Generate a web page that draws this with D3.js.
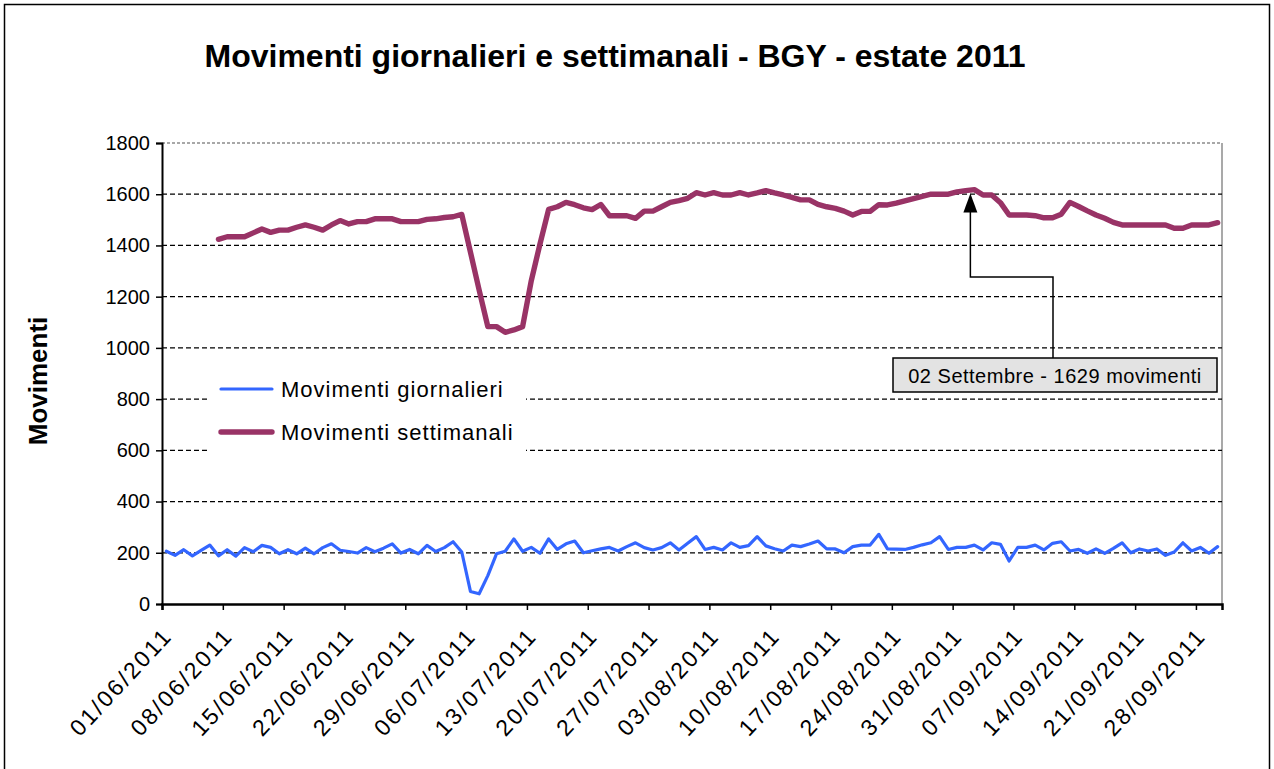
<!DOCTYPE html>
<html><head><meta charset="utf-8">
<script src="https://cdn.jsdelivr.net/npm/d3@7"></script>
<style>
html,body{margin:0;padding:0;background:#fff;}
svg text{font-family:"Liberation Sans",Arial,sans-serif;}
</style></head>
<body>
<svg id="c" width="1274" height="769"></svg>
<script>
const title = "Movimenti giornalieri e settimanali - BGY - estate 2011";
const yTitle = "Movimenti";
const seriesNames = ["Movimenti giornalieri", "Movimenti settimanali"];
const startDate = new Date(2011, 5, 1);
const endDate = new Date(2011, 9, 1);
const yTicks = [0, 200, 400, 600, 800, 1000, 1200, 1400, 1600, 1800];
const annotationText = "02 Settembre - 1629 movimenti";
const annotationDate = new Date(2011, 8, 2);

const daily = [
 206,190,212,188,209,230,188,212,187,220,
 204,229,221,196,212,196,218,196,220,235,
 210,205,199,220,204,218,235,199,213,196,
 229,205,220,243,203,49,40,111,196,206,
 254,206,221,198,254,213,235,246,200,208,
 215,221,207,224,239,220,211,220,239,211,
 237,263,213,221,211,239,221,228,263,227,
 216,207,230,224,234,246,215,215,200,224,
 230,230,272,215,214,213,221,231,239,263,
 213,221,221,230,211,239,233,168,221,221,
 230,211,237,243,207,213,198,215,198,217,
 239,200,215,207,215,190,203,239,207,221,
 198,224
];
const weekly = [
 null,null,null,null,null,null,
 1424,1434,1434,1434,1449,1464,1451,1460,1460,1471,
 1480,1471,1460,1480,1497,1484,1493,1493,1504,1504,
 1504,1493,1493,1493,1502,1504,1509,1512,1521,1374,
 1226,1083,1083,1061,1070,1083,1262,1405,1541,1551,
 1568,1559,1547,1540,1560,1516,1516,1516,1506,1534,
 1534,1551,1568,1575,1584,1606,1597,1606,1597,1597,
 1606,1597,1605,1614,1605,1597,1588,1578,1578,1560,
 1551,1545,1534,1519,1533,1533,1559,1558,1565,1574,
 1583,1592,1600,1600,1600,1609,1614,1618,1597,1597,
 1567,1519,1519,1519,1516,1508,1508,1522,1568,1552,
 1535,1519,1506,1490,1480,1480,1480,1480,1480,1480,
 1467,1467,1480,1480,1480,1489
];

const dates = d3.timeDay.range(startDate, endDate);
const svg = d3.select("#c");
const L = 162, R = 1222, T = 143, B = 604;

// chart border
svg.append("rect").attr("x", 4.5).attr("y", 4.5).attr("width", 1265).attr("height", 800)
  .attr("fill", "#fff").attr("stroke", "#000").attr("stroke-width", 1.5);

const x = d3.scaleTime().domain([startDate, endDate]).range([L, R]);
const y = d3.scaleLinear().domain([0, 1800]).range([B, T]);
const mid = d => d3.timeHour.offset(d, 12);

// plot border (top and right grey)
svg.append("line").attr("x1", L).attr("x2", R).attr("y1", T).attr("y2", T)
  .attr("stroke", "#8c8c8c").attr("stroke-width", 1.5).attr("stroke-dasharray", "3,2");
svg.append("line").attr("x1", R).attr("x2", R).attr("y1", T).attr("y2", B)
  .attr("stroke", "#8c8c8c").attr("stroke-width", 1.5);

// grid
svg.append("g").selectAll("line").data(yTicks.filter(v => v > 0 && v < 1800)).join("line")
  .attr("x1", L).attr("x2", R).attr("y1", d => y(d)).attr("y2", d => y(d))
  .attr("stroke", "#000").attr("stroke-width", 1.2).attr("stroke-dasharray", "5,3");

// y axis
const ya = svg.append("g").attr("transform", `translate(${L},0)`)
  .call(d3.axisLeft(y).tickValues(yTicks).tickSize(6).tickPadding(6).tickFormat(d3.format("d")));
ya.select(".domain").attr("stroke", "#000").attr("stroke-width", 2);
ya.selectAll(".tick line").attr("stroke", "#000").attr("stroke-width", 1.5);
ya.selectAll("text").attr("font-size", 20).attr("fill", "#000").attr("font-family", "Liberation Sans, Arial, sans-serif");

// x axis
const xt = d3.timeDay.range(startDate, endDate, 7);
const xa = svg.append("g").attr("transform", `translate(0,${B})`)
  .call(d3.axisBottom(x).tickValues(xt).tickSize(6).tickFormat(d3.timeFormat("%d/%m/%Y")));
xa.select(".domain").attr("stroke", "#000").attr("stroke-width", 2.5);
xa.selectAll(".tick line").attr("stroke", "#000").attr("stroke-width", 1.5);
xa.selectAll("text").attr("font-size", 23).attr("fill", "#000")
  .attr("font-family", "Liberation Sans, Arial, sans-serif")
  .attr("letter-spacing", "2.4px")
  .attr("text-anchor", "end").attr("dy", null).attr("y", 0)
  .attr("transform", "translate(11,33) rotate(-47)");

// lines
const lineD = d3.line().defined(d => d.v != null).x(d => x(mid(d.date))).y(d => y(d.v));
svg.append("path").datum(dates.map((d, i) => ({date: d, v: daily[i]})))
  .attr("d", lineD).attr("fill", "none").attr("stroke", "#3366ff").attr("stroke-width", 3.2)
  .attr("stroke-linejoin", "round").attr("stroke-linecap", "round");
svg.append("path").datum(dates.map((d, i) => ({date: d, v: weekly[i]})))
  .attr("d", lineD).attr("fill", "none").attr("stroke", "#993366").attr("stroke-width", 5.4)
  .attr("stroke-linejoin", "round").attr("stroke-linecap", "round");

// title
svg.append("text").attr("x", 615).attr("y", 67).attr("text-anchor", "middle")
  .attr("font-size", 32).attr("font-weight", "bold").text(title);
svg.append("text").attr("transform", "translate(47,381) rotate(-90)").attr("text-anchor", "middle")
  .attr("font-size", 26).attr("font-weight", "bold").text(yTitle);

// legend
const lg = svg.append("g");
lg.append("rect").attr("x", 208).attr("y", 367).attr("width", 318).attr("height", 88).attr("fill", "#fff");
const lcolors = ["#3366ff", "#993366"], lw = [3.2, 5.4];
seriesNames.forEach((n, i) => {
  const yy = 389 + i * 43;
  lg.append("line").attr("x1", 221).attr("x2", 272).attr("y1", yy).attr("y2", yy)
    .attr("stroke", lcolors[i]).attr("stroke-width", lw[i]).attr("stroke-linecap", "round");
  lg.append("text").attr("x", 281).attr("y", yy + 8).attr("font-size", 22)
    .attr("letter-spacing", "1px").attr("fill", "#000").text(n);
});

// annotation
const ai = d3.timeDay.count(startDate, annotationDate);
const ax = x(mid(annotationDate)) - 4;
const ay = y(weekly[ai]) + 4;
const bx = 893, by = 358, bw = 324, bh = 34;
svg.append("path").attr("d", `M${ax},${ay + 18} L${ax},277 L1053,277 L1053,${by}`)
  .attr("fill", "none").attr("stroke", "#000").attr("stroke-width", 1.5);
svg.append("path").attr("d", `M${ax},${ay} L${ax - 7},${ay + 19} L${ax + 7},${ay + 19} Z`).attr("fill", "#000");
svg.append("rect").attr("x", bx).attr("y", by).attr("width", bw).attr("height", bh)
  .attr("fill", "#e3e3e3").attr("stroke", "#000").attr("stroke-width", 1.5);
svg.append("text").attr("x", bx + bw / 2).attr("y", by + 25).attr("text-anchor", "middle")
  .attr("font-size", 20).attr("letter-spacing", "0.5px").attr("fill", "#000").text(annotationText);
</script>
</body></html>
